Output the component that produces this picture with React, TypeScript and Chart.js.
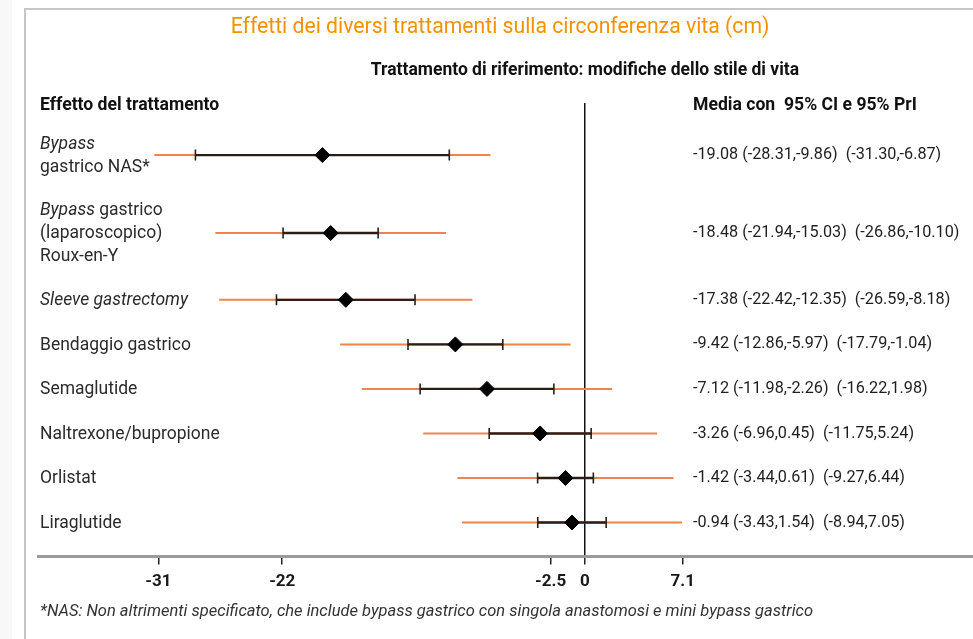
import { useEffect, useRef } from "react";
import { Chart, registerables } from "chart.js";

Chart.register(...registerables);

const titleText = "Effetti dei diversi trattamenti sulla circonferenza vita (cm)";
const subtitleText = "Trattamento di riferimento: modifiche dello stile di vita";
const leftHeader = "Effetto del trattamento";
const rightHeader = "Media con  95% CI e 95% PrI";
const footnote =
  "*NAS: Non altrimenti specificato, che include bypass gastrico con singola anastomosi e mini bypass gastrico";

const treatmentLines: string[][] = [
  ["Bypass", "gastrico NAS*"],
  ["Bypass gastrico", "(laparoscopico)", "Roux-en-Y"],
  ["Sleeve gastrectomy"],
  ["Bendaggio gastrico"],
  ["Semaglutide"],
  ["Naltrexone/bupropione"],
  ["Orlistat"],
  ["Liraglutide"],
];
const italicTerms = ["Sleeve gastrectomy", "Bypass"];

const means = [-19.08, -18.48, -17.38, -9.42, -7.12, -3.26, -1.42, -0.94];
const ciLow = [-28.31, -21.94, -22.42, -12.86, -11.98, -6.96, -3.44, -3.43];
const ciHigh = [-9.86, -15.03, -12.35, -5.97, -2.26, 0.45, 0.61, 1.54];
const piLow = [-31.3, -26.86, -26.59, -17.79, -16.22, -11.75, -9.27, -8.94];
const piHigh = [-6.87, -10.1, -8.18, -1.04, 1.98, 5.24, 6.44, 7.05];
const xTicks = [-31, -22, -2.5, 0, 7.1];

// row layout derived from number of label lines
const weights = treatmentLines.map((l) => l.length + 1);
const rowPos: number[] = [];
{
  let acc = 0;
  weights.forEach((w) => {
    rowPos.push(acc + w / 2);
    acc += w;
  });
}
const totalUnits = weights.reduce((a, b) => a + b, 0);

const ORANGE = "#f0844a";
const DARK = "#2a1e16";
const TEXT = "#2b2b2b";
const FONT = "Roboto, 'Noto Sans', sans-serif";

const fmt = (v: number) => v.toFixed(2);
const valueText = (i: number) =>
  `${fmt(means[i])} (${fmt(ciLow[i])},${fmt(ciHigh[i])})  (${fmt(piLow[i])},${fmt(piHigh[i])})`;

const textPlugin = {
  id: "forestText",
  beforeDraw(chart: any) {
    const ctx: CanvasRenderingContext2D = chart.ctx;
    ctx.save();
    ctx.fillStyle = "#ffffff";
    ctx.fillRect(0, 0, chart.width, chart.height);
    ctx.fillStyle = "#f8f8f8";
    ctx.fillRect(0, 0, 12, chart.height);
    ctx.strokeStyle = "#c6c6c6";
    ctx.lineWidth = 2;
    ctx.beginPath();
    ctx.moveTo(25, chart.height);
    ctx.lineTo(25, 9);
    ctx.lineTo(chart.width, 9);
    ctx.stroke();
    ctx.restore();
  },
  afterDraw(chart: any) {
    const ctx: CanvasRenderingContext2D = chart.ctx;
    const ys = chart.scales.y;
    const xs = chart.scales.x;
    const leftX = chart.chartArea.left + 2;
    const rightX = 693;
    ctx.save();
    ctx.textBaseline = "middle";

    // title
    ctx.fillStyle = "#f39200";
    ctx.font = `21.2px ${FONT}`;
    ctx.textAlign = "center";
    ctx.fillText(titleText, 500, 28);

    // subtitle
    ctx.fillStyle = "#111";
    ctx.font = `bold 17.5px ${FONT}`;
    ctx.fillText(subtitleText, xs.getPixelForValue(0), 71);

    // headers
    ctx.textAlign = "left";
    ctx.font = `bold 17.6px ${FONT}`;
    ctx.fillText(leftHeader, leftX, 106);
    ctx.fillText(rightHeader, rightX, 106);

    // row labels
    const lh = 23;
    treatmentLines.forEach((lines, i) => {
      const cy = ys.getPixelForValue(rowPos[i]);
      const y0 = cy - ((lines.length - 1) * lh) / 2 + 1;
      lines.forEach((line, j) => {
        const y = y0 + j * lh;
        ctx.fillStyle = TEXT;
        let x = leftX;
        const term = italicTerms.find((t) => line.startsWith(t));
        let rest = line;
        if (term) {
          ctx.font = `italic 17.5px ${FONT}`;
          ctx.fillText(term, x, y);
          x += ctx.measureText(term).width;
          rest = line.slice(term.length);
        }
        if (rest) {
          ctx.font = `17.5px ${FONT}`;
          ctx.fillText(rest, x, y);
        }
      });
      ctx.font = `16.2px ${FONT}`;
      ctx.fillStyle = "#1e1e1e";
      ctx.fillText(valueText(i), rightX, cy);
    });

    // footnote
    ctx.font = `italic 16.5px ${FONT}`;
    ctx.fillStyle = "#333";
    ctx.fillText(footnote, leftX, 612);
    ctx.restore();
  },
};

export default function App() {
  const ref = useRef<HTMLCanvasElement>(null);
  useEffect(() => {
    const canvas = ref.current!;
    const datasets: any[] = [];
    // means
    datasets.push({
      data: means.map((m, i) => ({ x: m, y: rowPos[i] })),
      pointStyle: "rectRot",
      pointRadius: 7.5,
      backgroundColor: "#000",
      borderColor: "#000",
      borderWidth: 1,
      showLine: false,
      order: 0,
    });
    // CI caps
    datasets.push({
      data: [
        ...ciLow.map((v, i) => ({ x: v, y: rowPos[i] })),
        ...ciHigh.map((v, i) => ({ x: v, y: rowPos[i] })),
      ],
      pointStyle: "line",
      rotation: 90,
      pointRadius: 5.5,
      borderColor: DARK,
      borderWidth: 1.6,
      showLine: false,
      order: 1,
    });
    means.forEach((_, i) => {
      datasets.push({
        data: [
          { x: ciLow[i], y: rowPos[i] },
          { x: ciHigh[i], y: rowPos[i] },
        ],
        showLine: true,
        borderColor: DARK,
        borderWidth: 2.4,
        pointRadius: 0,
        order: 2,
      });
      datasets.push({
        data: [
          { x: piLow[i], y: rowPos[i] },
          { x: piHigh[i], y: rowPos[i] },
        ],
        showLine: true,
        borderColor: ORANGE,
        borderWidth: 2,
        pointRadius: 0,
        order: 3,
      });
    });

    const chart = new Chart(canvas, {
      type: "scatter",
      data: { datasets },
      options: {
        animation: false,
        responsive: true,
        maintainAspectRatio: false,
        devicePixelRatio: 1,
        events: [],
        layout: { autoPadding: false, padding: { left: 38, right: 0, top: 103, bottom: 40 } },
        plugins: { legend: { display: false }, tooltip: { enabled: false }, title: { display: false } },
        scales: {
          y: {
            type: "linear",
            display: false,
            reverse: true,
            min: -0.84,
            max: totalUnits + 0.53,
          },
          x: {
            type: "linear",
            min: -39.75,
            max: 28.2,
            afterBuildTicks: (scale: any) => {
              scale.ticks = xTicks.map((v) => ({ value: v }));
            },
            afterFit: (scale: any) => {
              scale.paddingLeft = 0;
              scale.paddingRight = 0;
            },
            ticks: {
              autoSkip: false,
              maxRotation: 0,
              padding: 7,
              color: "#1a1a1a",
              font: { family: FONT, weight: "bold", size: 17 },
              callback: (v: any) => String(v),
            },
            grid: {
              drawOnChartArea: true,
              drawTicks: true,
              tickLength: 8,
              tickWidth: 1.5,
              tickColor: "#222",
              color: (c: any) => (c.tick && c.tick.value === 0 ? "#111" : "rgba(0,0,0,0)"),
              lineWidth: 1.5,
            },
            border: { display: true, color: "#9a9a9a", width: 3 },
          },
        },
      },
      plugins: [textPlugin],
    } as any);
    return () => chart.destroy();
  }, []);
  return (
    <div style={{ position: "absolute", left: 0, top: 0, width: 973, height: 639, background: "#fff" }}>
      <canvas ref={ref} style={{ display: "block" }} />
    </div>
  );
}
